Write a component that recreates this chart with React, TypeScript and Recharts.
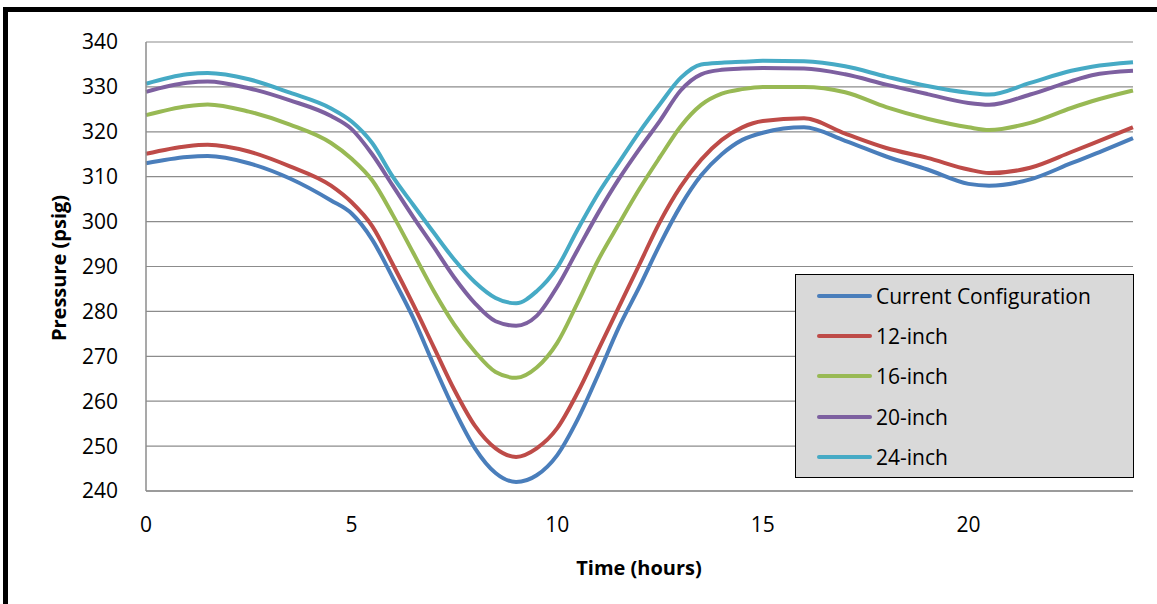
import { CartesianGrid, Line, LineChart, XAxis, YAxis } from "recharts";

const hours = [
  0, 1, 1.5, 2.5, 3.5, 4.5, 5, 5.5, 6, 6.5, 7, 7.5, 8, 8.5, 9, 9.5, 10, 10.5,
  11, 11.5, 12, 12.5, 13, 13.5, 14, 14.5, 15, 16, 17, 18, 19, 20, 20.5, 21.5,
  22.5, 23, 24,
];

const current = [
  313, 314.4, 314.6, 313, 309.6, 304.7, 301.8, 296, 287.5, 278.5, 268, 258,
  249.5, 244, 242, 243.5, 248, 256, 266, 276.5, 285.5, 295, 303.5, 310.3, 315,
  318.2, 319.8, 321, 318, 314.5, 311.6, 308.4, 308, 309.4, 313, 314.8, 318.6,
];
const inch12 = [
  315.1, 316.8, 317.1, 315.6, 312.3, 308, 304.3, 299, 290.5, 281.5, 272, 262.5,
  254.5, 249.5, 247.6, 249.5, 254, 262, 271.5, 281, 290.5, 300, 307.8, 313.8,
  318.2, 321, 322.4, 323, 319.6, 316.4, 314.2, 311.6, 310.8, 312, 315.5, 317.3,
  321,
];
const inch16 = [
  323.7, 325.7, 326.1, 324.5, 321.6, 317.5, 314, 309.2, 301.5, 293, 284.5, 277,
  271, 266.5, 265.2, 267.5, 273, 282, 291.5, 299.5, 307.3, 314.4, 321.2, 326,
  328.5, 329.5, 330, 330, 328.8, 325.5, 322.9, 321, 320.4, 322, 325.3, 326.8,
  329.2,
];
const inch20 = [
  328.9, 330.9, 331.2, 329.7, 327, 323.5, 320.6, 315, 308, 301, 294.3, 287.5,
  281.8, 277.8, 276.8, 279, 285.5, 293.8, 302, 309.5, 316.2, 322.5, 329.2,
  332.8, 333.8, 334.1, 334.2, 334.1, 332.8, 330.5, 328.4, 326.4, 326, 328.3,
  331.3, 332.6, 333.6,
];
const inch24 = [
  330.7, 332.8, 333.1, 331.7, 328.7, 325.2, 322.3, 317.5, 310, 303.7, 297.5,
  291.5, 286.5, 283, 281.8, 284.5, 289.8, 298.3, 306.3, 313.2, 320, 326.2, 332,
  335, 335.4, 335.6, 335.8, 335.7, 334.6, 332.3, 330.2, 328.7, 328.3, 330.9,
  333.6, 334.5, 335.5,
];

const xTicks = [0, 5, 10, 15, 20];
const yTicks = [240, 250, 260, 270, 280, 290, 300, 310, 320, 330, 340];

const series = [
  { key: "current", name: "Current Configuration", color: "#4A7EBB", values: current },
  { key: "inch12", name: "12-inch", color: "#BE4B48", values: inch12 },
  { key: "inch16", name: "16-inch", color: "#98B954", values: inch16 },
  { key: "inch20", name: "20-inch", color: "#7D60A0", values: inch20 },
  { key: "inch24", name: "24-inch", color: "#46AAC5", values: inch24 },
];

const data = hours.map((h, i) => {
  const row: Record<string, number> = { hour: h };
  series.forEach((s) => {
    row[s.key] = s.values[i];
  });
  return row;
});

const FONT = "'Open Sans', 'Noto Sans', sans-serif";

function LegendBox() {
  return (
    <div
      style={{
        position: "absolute",
        left: 795,
        top: 274,
        width: 339,
        height: 204,
        boxSizing: "border-box",
        background: "#d9d9d9",
        border: "1px solid #000",
        paddingTop: 1,
        fontFamily: FONT,
        fontSize: 21,
        color: "#000",
      }}
    >
      {series.map((s) => (
        <div
          key={s.key}
          style={{ display: "flex", alignItems: "center", height: 40.2 }}
        >
          <span
            style={{
              display: "inline-block",
              marginLeft: 21,
              width: 55,
              height: 4,
              borderRadius: 2,
              background: s.color,
            }}
          />
          <span style={{ marginLeft: 4, whiteSpace: "nowrap" }}>{s.name}</span>
        </div>
      ))}
    </div>
  );
}

export default function App() {
  return (
    <div style={{ position: "relative", width: 1157, height: 604, background: "#fff" }}>
      <style>{`body{margin:0}`}</style>
      <LineChart
        width={1157}
        height={604}
        data={data}
        margin={{ top: 42, right: 24, bottom: 0, left: 0 }}
      >
        <CartesianGrid horizontal vertical={false} stroke="#8c8c8c" strokeWidth={1.2} />
        <XAxis
          dataKey="hour"
          type="number"
          domain={[0, 24]}
          ticks={xTicks}
          tickLine={false}
          axisLine={{ stroke: "#8c8c8c", strokeWidth: 1.5 }}
          tick={{ fontSize: 21, fill: "#000", fontFamily: FONT }}
          tickMargin={20}
          height={113}
          label={{
            content: () => (
              <text
                x={639}
                y={567}
                textAnchor="middle"
                dominantBaseline="central"
                style={{ fontFamily: FONT, fontSize: 20, fontWeight: 700, fill: "#000" }}
              >
                Time (hours)
              </text>
            ),
          }}
        />
        <YAxis
          type="number"
          domain={[240, 340]}
          ticks={yTicks}
          interval={0}
          width={146}
          tickLine={false}
          axisLine={{ stroke: "#8c8c8c", strokeWidth: 1.5 }}
          tick={{ fontSize: 21, fill: "#000", fontFamily: FONT }}
          tickMargin={22}
          label={{
            content: () => (
              <text
                x={58}
                y={268}
                textAnchor="middle"
                dominantBaseline="central"
                transform="rotate(-90 58 268)"
                style={{ fontFamily: FONT, fontSize: 20, fontWeight: 700, fill: "#000" }}
              >
                Pressure (psig)
              </text>
            ),
          }}
        />
        {series.map((s) => (
          <Line
            key={s.key}
            dataKey={s.key}
            name={s.name}
            type="monotone"
            stroke={s.color}
            strokeWidth={4}
            dot={false}
            activeDot={false}
            isAnimationActive={false}
          />
        ))}
      </LineChart>
      <LegendBox />
      <div
        style={{
          position: "absolute",
          left: 3,
          top: 7,
          right: 0,
          bottom: 0,
          borderTop: "5px solid #000",
          borderLeft: "5px solid #000",
          pointerEvents: "none",
        }}
      />
    </div>
  );
}
